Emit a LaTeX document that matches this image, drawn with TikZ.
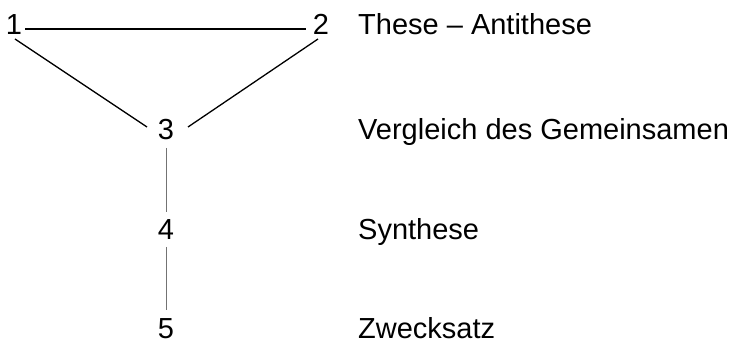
\documentclass[tikz,border=0pt]{standalone}
\usepackage{fontspec}
\setmainfont{Liberation Sans}
\begin{document}
\begin{tikzpicture}[x=1pt,y=1pt,
  num/.style={anchor=base,inner sep=0pt,font=\fontsize{29}{34}\selectfont},
  lbl/.style={anchor=base west,inner sep=0pt,font=\fontsize{29}{34}\selectfont},
  tri/.style={line width=1.3pt,black},
  vert/.style={line width=0.9pt,black!55}]
\useasboundingbox (0,0) rectangle (735,342);
\node[num] (n1) at (14,307) {1};
\node[num] (n2) at (321,307) {2};
\node[num] (n3) at (166,202) {3};
\node[num] (n4) at (166,102) {4};
\node[num] (n5) at (166,3) {5};
\node[lbl] (l1) at (358,307) {These – Antithese};
\node[lbl] (l2) at (358,202) {Vergleich des Gemeinsamen};
\node[lbl] (l3) at (358,102) {Synthese};
\node[lbl] (l4) at (358,3) {Zwecksatz};
\draw[tri] ([shift={(11,6)}]n1.base) -- ([shift={(-15,6)}]n2.base);
\draw[tri] ([shift={(1,-4)}]n1.base) -- ([shift={(-19,13)}]n3.base);
\draw[tri] ([shift={(-3,-4)}]n2.base) -- ([shift={(22,13)}]n3.base);
\draw[vert] ([shift={(0,-8)}]n3.base) -- ([shift={(0,28)}]n4.base);
\draw[vert] ([shift={(0,-7)}]n4.base) -- ([shift={(0,29)}]n5.base);
\end{tikzpicture}
\end{document}
